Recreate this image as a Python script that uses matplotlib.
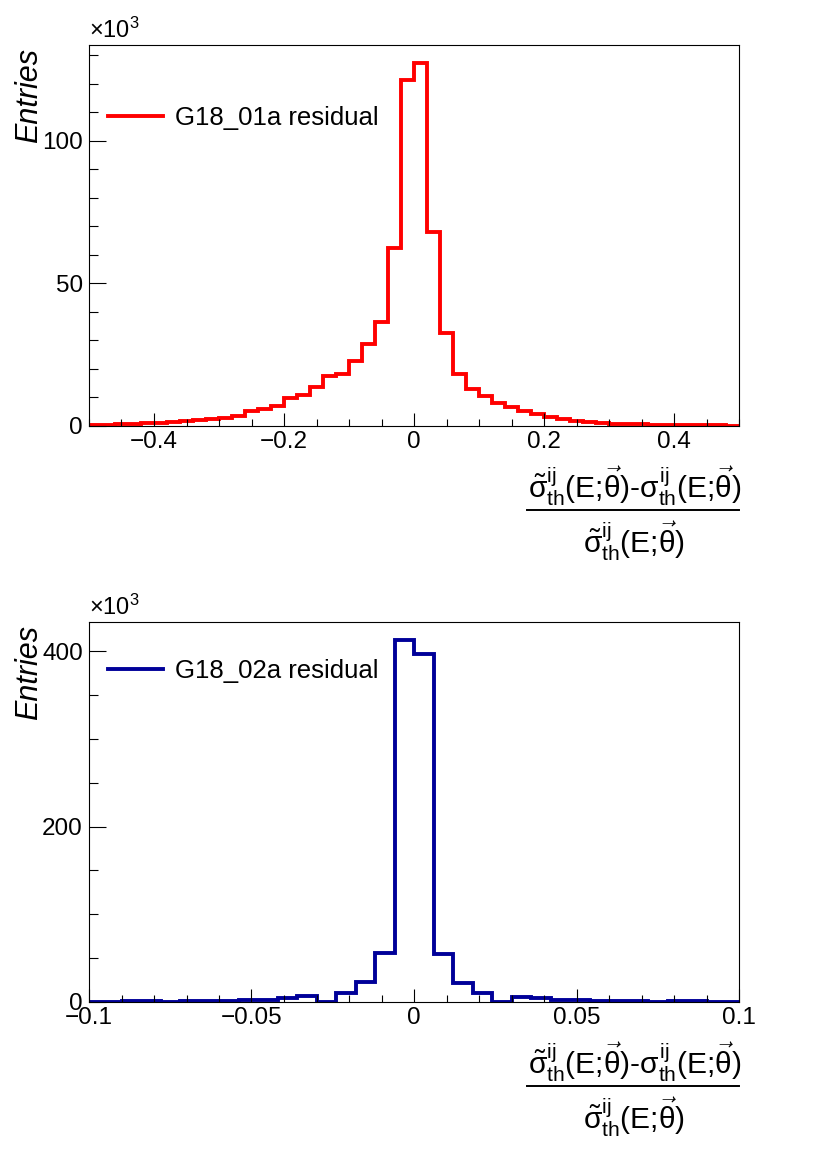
import matplotlib
matplotlib.use('Agg')
import matplotlib.pyplot as plt
from matplotlib.ticker import MultipleLocator, FuncFormatter
import numpy as np

plt.rcParams['font.family'] = ['Liberation Sans', 'DejaVu Sans']
plt.rcParams['mathtext.fontset'] = 'custom'
plt.rcParams['mathtext.rm'] = 'Liberation Sans'
plt.rcParams['mathtext.it'] = 'Liberation Sans'
plt.rcParams['mathtext.bf'] = 'Liberation Sans:bold'
plt.rcParams['axes.unicode_minus'] = True

# top histogram: G18_01a residual, 50 bins on [-0.5, 0.5], entries in units of 1e3
edges_01a = np.linspace(-0.5, 0.5, 51)
counts_01a = [0.25, 0.35, 0.55, 0.7, 0.9, 1.05, 1.5, 1.75, 2.1, 2.5,
              2.8, 3.5, 5.1, 6.1, 7.0, 9.7, 11.0, 13.8, 17.6, 18.3,
              22.7, 28.6, 36.4, 62.5, 121.3, 127.3, 68.1, 32.5, 18.4, 13.1,
              10.6, 7.9, 6.5, 5.3, 4.1, 3.2, 2.5, 1.9, 1.4, 1.05,
              0.8, 0.7, 0.55, 0.45, 0.35, 0.3, 0.25, 0.2, 0.2, 0.15]

# bottom histogram: G18_02a residual, bins of 0.006, entries in units of 1e3
edges_02a = np.arange(-17, 18) * 0.006
counts_02a = [0.5, 0.5, 0.6, 0.7, 0.0, 0.8, 1.1, 1.5, 1.9, 2.7,
              4.6, 6.5, 0.0, 10.8, 22.4, 56.2, 412.8, 396.8, 54.5, 21.8,
              10.3, 0.0, 6.1, 4.1, 2.3, 1.9, 1.5, 1.1, 0.8, 0.0,
              0.7, 0.6, 0.5, 0.5]

# x title is a fraction: numerator over denominator
num_text = r'$\tilde{\sigma}^{ij}_{th}$(E;$\vec{\theta}$)-$\sigma^{ij}_{th}$(E;$\vec{\theta}$)'
den_text = r'$\tilde{\sigma}^{ij}_{th}$(E;$\vec{\theta}$)'


def fmt(v, pos):
    if abs(v) < 1e-12:
        return '0'
    return ('%g' % v).replace('-', '\u2212')


def panel(ax, edges, counts, color, label, xlim, xmaj, xmin, ymaj, ymin, leg_y, h_px):
    ax.stairs(counts, edges, color=color, linewidth=2.8)
    ax.set_xlim(*xlim)
    ax.set_ylim(0, 1.05 * max(counts))
    ax.xaxis.set_major_locator(MultipleLocator(xmaj))
    ax.xaxis.set_minor_locator(MultipleLocator(xmin))
    ax.yaxis.set_major_locator(MultipleLocator(ymaj))
    ax.yaxis.set_minor_locator(MultipleLocator(ymin))
    ax.xaxis.set_major_formatter(FuncFormatter(fmt))
    ax.yaxis.set_major_formatter(FuncFormatter(fmt))
    ax.tick_params(axis='x', which='major', direction='in', length=9.5, width=0.8, pad=3.5, labelsize=17.5)
    ax.tick_params(axis='x', which='minor', direction='in', length=5, width=0.8)
    ax.tick_params(axis='y', which='major', direction='in', length=12.5, width=0.8, pad=4.5, labelsize=17.5)
    ax.tick_params(axis='y', which='minor', direction='in', length=6.2, width=0.8)
    for sp in ax.spines.values():
        sp.set_linewidth(0.8)
    ax.text(-0.0915, 0.992, 'Entries', transform=ax.transAxes, rotation=90,
            ha='center', va='top', fontsize=22, fontstyle='italic')
    ax.text(0.0, 1.006, r'$\times10^{3}$', transform=ax.transAxes,
            ha='left', va='bottom', fontsize=17)
    # fraction title, offsets in pixels below the frame
    xc = 0.839
    ax.text(xc, -72 / h_px, num_text, transform=ax.transAxes, ha='center',
            va='baseline', fontsize=21.5)
    ax.plot([0.674, 1.0], [-84 / h_px, -84 / h_px], transform=ax.transAxes,
            color='black', linewidth=1.4, clip_on=False)
    ax.text(xc, -127 / h_px, den_text, transform=ax.transAxes, ha='center',
            va='baseline', fontsize=21.5)
    ax.legend([plt.Line2D([], [], color=color, linewidth=2.8)], [label],
              loc='upper left', bbox_to_anchor=(0.029, leg_y), frameon=False,
              fontsize=18.5, handlelength=2.15, handletextpad=0.45,
              borderpad=0, borderaxespad=0)


fig = plt.figure(figsize=(8.3, 11.57), dpi=100)
ax1 = fig.add_axes([89 / 830, 1 - 426 / 1157, 650 / 830, 381 / 1157])
ax2 = fig.add_axes([89 / 830, 1 - 1002 / 1157, 650 / 830, 380 / 1157])

panel(ax1, edges_01a, counts_01a, '#ff0000', 'G18_01a residual',
      (-0.5, 0.5), 0.2, 0.05, 50, 10, 0.84, 381)
panel(ax2, edges_02a, counts_02a, '#000099', 'G18_02a residual',
      (-0.1, 0.1), 0.05, 0.01, 200, 50, 0.903, 380)

fig.savefig('out.png', dpi=100)
